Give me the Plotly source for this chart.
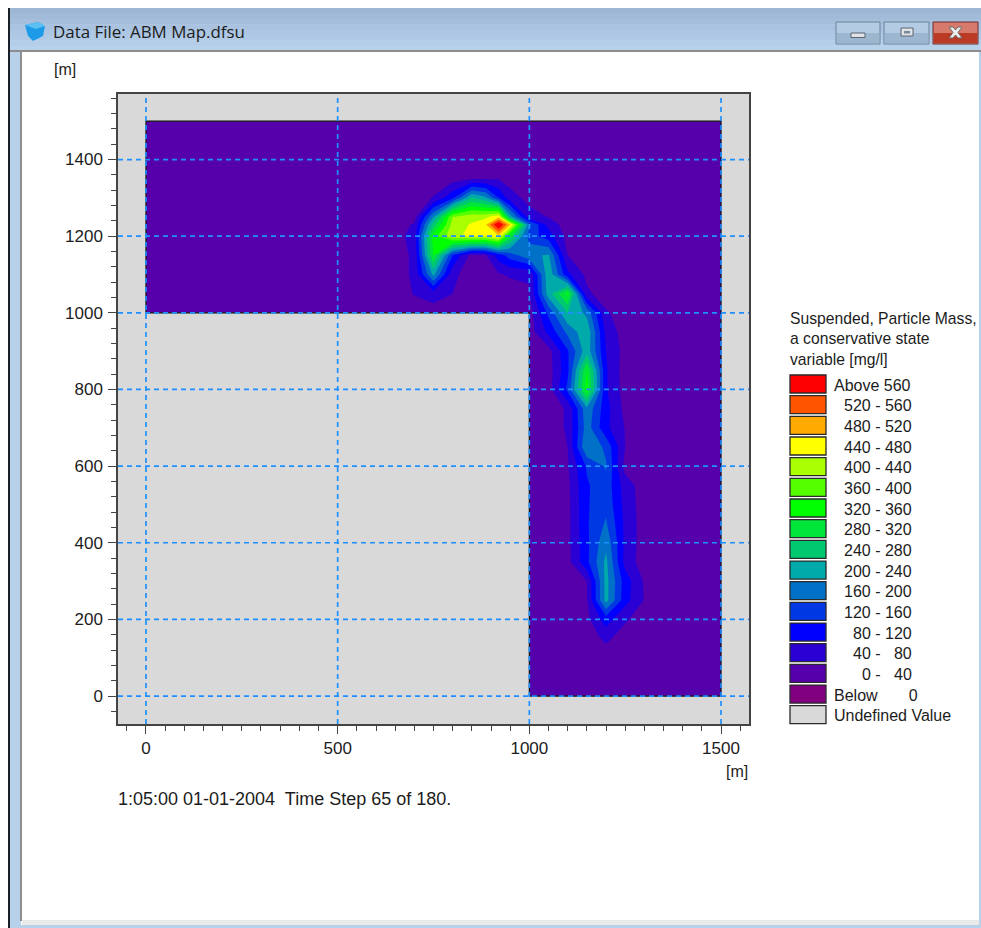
import plotly.graph_objects as go

# ---------- data ----------
grid_x = [650, 700, 750, 800, 850, 885, 920, 950, 1000, 1050, 1100, 1150, 1200, 1250, 1300, 1350]
grid_y = [1350, 1300, 1250, 1230, 1200, 1150, 1100, 1050, 1000, 950, 900, 850, 800, 750, 700, 650,
          600, 550, 500, 450, 400, 350, 300, 250, 200, 150, 100]
mass = [
    [20, 20, 20, 25, 38, 38, 38, 25, 20, 20, 20, 20, 20, 20, 20, 20],
    [20, 20, 42, 110, 240, 210, 120, 55, 28, 20, 20, 20, 20, 20, 20, 20],
    [20, 22, 200, 400, 425, 430, 470, 220, 55, 38, 20, 20, 20, 20, 20, 20],
    [20, 45, 260, 415, 445, 470, 610, 480, 170, 65, 20, 20, 20, 20, 20, 20],
    [20, 60, 340, 430, 450, 440, 470, 300, 140, 100, 25, 20, 20, 20, 20, 20],
    [20, 48, 320, 120, 25, 35, 100, 140, 190, 205, 40, 20, 20, 20, 20, 20],
    [20, 48, 210, 50, 20, 20, 36, 45, 42, 230, 90, 30, 20, 20, 20, 20],
    [20, 42, 60, 40, 20, 20, 20, 20, 38, 220, 330, 48, 20, 20, 20, 20],
    [20, 20, 20, 20, 20, 20, 20, 20, 20, 130, 240, 190, 45, 20, 20, 20],
    [20, 20, 20, 20, 20, 20, 20, 20, 20, 90, 170, 230, 70, 20, 20, 20],
    [20, 20, 20, 20, 20, 20, 20, 20, 20, 25, 115, 225, 80, 25, 20, 20],
    [20, 20, 20, 20, 20, 20, 20, 20, 20, 20, 110, 320, 85, 20, 20, 20],
    [20, 20, 20, 20, 20, 20, 20, 20, 20, 20, 130, 340, 85, 22, 20, 20],
    [20, 20, 20, 20, 20, 20, 20, 20, 20, 20, 45, 190, 95, 28, 20, 20],
    [20, 20, 20, 20, 20, 20, 20, 20, 20, 20, 45, 180, 90, 38, 20, 20],
    [20, 20, 20, 20, 20, 20, 20, 20, 20, 20, 40, 200, 150, 40, 20, 20],
    [20, 20, 20, 20, 20, 20, 20, 20, 20, 20, 36, 125, 165, 25, 20, 20],
    [20, 20, 20, 20, 20, 20, 20, 20, 20, 20, 30, 115, 145, 60, 20, 20],
    [20, 20, 20, 20, 20, 20, 20, 20, 20, 20, 28, 115, 150, 65, 20, 20],
    [20, 20, 20, 20, 20, 20, 20, 20, 20, 20, 28, 115, 165, 70, 20, 20],
    [20, 20, 20, 20, 20, 20, 20, 20, 20, 20, 28, 110, 190, 70, 20, 20],
    [20, 20, 20, 20, 20, 20, 20, 20, 20, 20, 25, 110, 210, 65, 20, 20],
    [20, 20, 20, 20, 20, 20, 20, 20, 20, 20, 20, 40, 215, 100, 35, 20],
    [20, 20, 20, 20, 20, 20, 20, 20, 20, 20, 20, 35, 215, 95, 38, 20],
    [20, 20, 20, 20, 20, 20, 20, 20, 20, 20, 20, 28, 100, 45, 20, 20],
    [20, 20, 20, 20, 20, 20, 20, 20, 20, 20, 20, 20, 48, 22, 20, 20],
    [20, 20, 20, 20, 20, 20, 20, 20, 20, 20, 20, 20, 20, 20, 20, 20],
]
domain_x = [0, 1500]
domain_y = [0, 1500]
background_value = 20
undefined_x = [0, 1000]
undefined_y = [0, 1000]
outline_x = [0, 1500, 1500, 1000, 1000, 0, 0]
outline_y = [1500, 1500, 0, 0, 1000, 1000, 1500]
x_ticks = [0, 500, 1000, 1500]
y_ticks = [0, 200, 400, 600, 800, 1000, 1200, 1400]

legend_labels = ["Above 560", "520 - 560", "480 - 520", "440 - 480", "400 - 440", "360 - 400",
                 "320 - 360", "280 - 320", "240 - 280", "200 - 240", "160 - 200", "120 - 160",
                 "80 - 120", "40 -   80", "0 -   40", "Below       0", "Undefined Value"]
legend_colors = ["#ff0000", "#ff5500", "#ffaa00", "#ffff00", "#aaff00", "#55ff00", "#00ff00",
                 "#00e539", "#00c871", "#00aaaa", "#0071c6", "#0039e3", "#0000ff", "#2a00d5",
                 "#5500aa", "#800080", "#d9d9d9"]
legend_title = "Suspended, Particle Mass,<br>a conservative state<br>variable [mg/l]"
time_label = "1:05:00 01-01-2004  Time Step 65 of 180."
window_title = "Data File: ABM Map.dfsu"

# ---------- styles ----------
W, H = 981, 928
L, R, T, B = 118, 749, 94, 724
FONT = "Liberation Sans, Arial, sans-serif"
TXT = "#1c1c1c"
FS = 16
GRID = "#1e90ff"
GREY = "#d9d9d9"
FRAME = "#444444"
CHROME = "#b8d1ea"


def fx(px):
    return (px - L) / (R - L)


def fy(py):
    return (B - py) / (B - T)


def box(x0, y0, x1, y1, fill, line=None, lw=1, layer="below"):
    return dict(type="rect", xref="paper", yref="paper", x0=fx(x0), x1=fx(x1), y0=fy(y1), y1=fy(y0),
                fillcolor=fill, line=dict(color=line or fill, width=lw if line else 0), layer=layer)


def poly(points, fill, line=None, lw=1, layer="above"):
    d = "M" + " L".join(f"{fx(a):.5f},{fy(b):.5f}" for a, b in points) + " Z"
    return dict(type="path", xref="paper", yref="paper", path=d, fillcolor=fill,
                line=dict(color=line or fill, width=lw if line else 0), layer=layer)


def label(px, py, text, anchor="left", size=FS, font=FONT, color=TXT, valign="middle"):
    return dict(xref="paper", yref="paper", x=fx(px), y=fy(py), text=text, showarrow=False,
                xanchor=anchor, yanchor=valign, align="left", borderpad=0, borderwidth=0,
                font=dict(family=font, size=size, color=color))


# pad the plume window out to the whole model domain
xs = [domain_x[0]] + grid_x + [domain_x[1]]
ys = [domain_y[1]] + grid_y + [domain_y[0]]
blank = [background_value] * len(xs)
zs = [blank] + [[background_value] + r + [background_value] for r in mass] + [blank]

# Plotly samples a filled contour's colour at each band's midpoint; those midpoints fall
# at k/15 of the colorscale, with "below start" at 0, so each colour is pinned to its midpoint.
band_colors = legend_colors[:16][::-1]
scale = [[i / (len(band_colors) - 1), c] for i, c in enumerate(band_colors)]

fig = go.Figure()
fig.add_trace(go.Contour(
    x=xs, y=ys, z=zs, colorscale=scale, showscale=False, hoverinfo="skip",
    contours=dict(coloring="fill", start=0, end=560, size=40, showlines=False),
    line=dict(width=0, smoothing=0),
))

shapes = []
# window chrome
bar_cols = ["#9cb6d3", "#a0bad7", "#a4bedb", "#a8c2df", "#acc6e3", "#b0cae6", "#b4cee9", "#b8d2ec"]
bar_top = 8
bar_h = 43 / len(bar_cols)
for i, c in enumerate(bar_cols):
    shapes.append(box(10, bar_top + i * bar_h, W, bar_top + (i + 1) * bar_h + 0.5, c))
shapes.append(box(10, 50, W, 52, "#8d8d8d"))
shapes.append(box(10, 52, 21, H, CHROME))
shapes.append(box(20, 52, 22, 921, "#8f8f8f"))
shapes.append(box(22, 920, W, 925, "#e9e9e9"))
shapes.append(box(10, 925, W, H, CHROME))
shapes.append(box(979, 52, W, H, CHROME))
shapes.append(box(8, 8, 10, H, "#1a1f28"))
# caption buttons
shapes.append(box(836, 22, 880, 44, "#b3cbe3", "#6d8199"))
shapes.append(box(837, 33, 879, 43, "#9db6d0"))
shapes.append(box(884, 22, 929, 44, "#b3cbe3", "#6d8199"))
shapes.append(box(885, 33, 928, 43, "#9db6d0"))
shapes.append(box(933, 22, 978, 44, "#d77a6b", "#6f2b2b"))
shapes.append(box(934, 33, 977, 43, "#bb3a26"))
shapes.append(box(851, 33, 865, 37.5, "#dfe3e8", "#5c6470", layer="above"))
shapes.append(box(901, 28, 913, 36, "#dfe3e8", "#5c6470", layer="above"))
shapes.append(box(904, 31, 910, 33.5, "#7a8a9c", layer="above"))
shapes.append(poly([(949, 27), (953, 27), (955.5, 30), (958, 27), (962, 27), (958, 32.5), (962, 38),
                    (958, 38), (955.5, 35), (953, 38), (949, 38), (953, 32.5)], "#eeeeee", "#6b6b6b"))
# window icon
shapes.append(poly([(25, 25), (38, 22), (45, 26), (43, 36), (33, 41), (28, 36)], "#1e9be8"))
shapes.append(poly([(25, 25), (38, 22), (45, 26), (36, 29)], "#5cc0f2"))
# undefined part of the L-shaped domain, over the contour field
shapes.append(dict(type="rect", xref="x", yref="y", x0=undefined_x[0], x1=undefined_x[1],
                   y0=undefined_y[0], y1=undefined_y[1], fillcolor=GREY, line=dict(width=0), layer="above"))
# domain outline
outline_path = "M" + " L".join(f"{a},{b}" for a, b in zip(outline_x, outline_y)) + " Z"
shapes.append(dict(type="path", xref="x", yref="y", path=outline_path, layer="above",
                   line=dict(color="#111111", width=1.2)))
# grid
for v in x_ticks:
    shapes.append(dict(type="line", xref="x", yref="paper", x0=v, x1=v, y0=0, y1=1, layer="above",
                       line=dict(color=GRID, width=1.7, dash="5px,4px")))
for v in y_ticks:
    shapes.append(dict(type="line", xref="paper", yref="y", x0=0, x1=1, y0=v, y1=v, layer="above",
                       line=dict(color=GRID, width=1.7, dash="5px,4px")))

annotations = [
    label(53, 32, window_title, font="Open Sans, sans-serif", size=16.9),
    label(54, 70, "[m]"),
    label(748, 771, "[m]", anchor="right"),
    label(118, 799, time_label, size=18),
    label(790, 339, legend_title, size=15.7),
]
row0, step, bh = 375, 20.67, 18
for i, (t, c) in enumerate(zip(legend_labels, legend_colors)):
    y0 = row0 + i * step
    shapes.append(box(790, y0, 826, y0 + bh, c, "#2a2a2a", 1.3))
    if i == 0 or i >= 15:
        annotations.append(label(834, y0 + bh / 2 + 1, t))
    else:
        annotations.append(label(912, y0 + bh / 2 + 1, t, anchor="right"))

fig.update_layout(
    width=W, height=H, autosize=False, showlegend=False,
    margin=dict(l=L, r=W - R, t=T, b=H - B, pad=0),
    paper_bgcolor="white", plot_bgcolor=GREY,
    shapes=shapes, annotations=annotations,
    font=dict(family=FONT, size=FS, color=TXT),
)
axis_style = dict(showgrid=False, zeroline=False, showline=True, mirror=True, linecolor=FRAME,
                  linewidth=1.5, ticks="outside", ticklen=8, tickwidth=1.3, tickcolor=FRAME,
                  tickfont=dict(family=FONT, size=17, color=TXT))
fig.update_xaxes(range=[-73, 1573], tickvals=x_ticks, ticktext=[str(v) for v in x_ticks],
                 minor=dict(dtick=50, tick0=0, ticks="outside", ticklen=5, tickwidth=1.3, tickcolor=FRAME),
                 **axis_style)
fig.update_yaxes(range=[-73, 1571], tickvals=y_ticks, ticktext=[str(v) for v in y_ticks],
                 minor=dict(dtick=40, tick0=0, ticks="outside", ticklen=5, tickwidth=1.3, tickcolor=FRAME),
                 ticklabelstandoff=2, **axis_style)

fig.write_html("out.html", config=dict(displayModeBar=False),
               post_script="document.body.style.margin='0';document.body.style.overflow='hidden';")
